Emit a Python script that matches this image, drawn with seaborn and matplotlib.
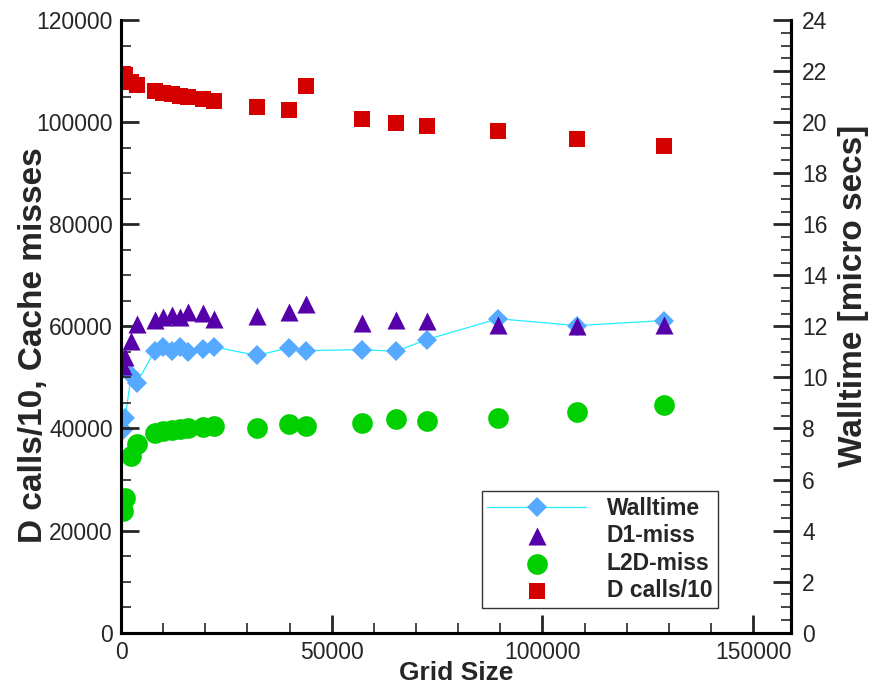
import matplotlib
matplotlib.use("Agg")
import matplotlib.pyplot as plt
import seaborn as sns
import pandas as pd
from matplotlib.ticker import MultipleLocator

# values
grid_size = [500, 1000, 2400, 3800, 8000, 10000, 12000, 14000, 16000, 19500, 22000,
             32200, 39800, 43900, 57300, 65200, 72500, 89500, 108200, 128900]
walltime = [7.95, 8.4, 10.1, 9.8, 11.05, 11.2, 11.05, 11.2, 11.0, 11.1, 11.2,
            10.86, 11.16, 11.05, 11.09, 11.02, 11.48, 12.3, 12.03, 12.23]
d1_miss = [52300, 54000, 57200, 60400, 61200, 61800, 62300, 61900, 62800, 62700, 61500,
           62100, 62800, 64400, 60700, 61200, 61000, 60200, 60100, 60300]
l2d_miss = [23800, 26400, 34600, 36900, 39200, 39600, 39800, 39900, 40000, 40300, 40500,
            40000, 40800, 40500, 41000, 41800, 41500, 42000, 43300, 44600]
d_calls10 = [109400, 109200, 107900, 107300, 106200, 105800, 105500, 105200, 104900, 104500, 104200,
             103000, 102300, 107000, 100600, 99800, 99300, 98200, 96750, 95400]

df = pd.DataFrame({
    "grid": grid_size,
    "walltime": walltime,
    "d1": d1_miss,
    "l2d": l2d_miss,
    "dcalls": d_calls10,
})

sns.set_style("ticks")
plt.rcParams['font.family'] = ['Liberation Sans', 'DejaVu Sans']

fig = plt.figure(figsize=(8.75, 6.92), dpi=100)
ax = fig.add_axes([0.1383, 0.0857, 0.7657, 0.8853])
ax2 = ax.twinx()
# left axis drawn on top of the right one
ax.set_zorder(ax2.get_zorder() + 1)
ax.patch.set_visible(False)

# Walltime on the right axis
sns.lineplot(data=df, x="grid", y="walltime", ax=ax2, color="#22EEFF", linewidth=0.9,
             marker="D", markersize=10.5, markerfacecolor="#55AAFF",
             markeredgecolor="#55AAFF", markeredgewidth=0, label="Walltime", legend=False)

# cache data on the left axis
sns.scatterplot(data=df, x="grid", y="dcalls", ax=ax, marker="s", s=132,
                color="#D40000", linewidth=0, label="D calls/10", legend=False)
sns.scatterplot(data=df, x="grid", y="l2d", ax=ax, marker="o", s=222,
                color="#00D000", linewidth=0, label="L2D-miss", legend=False)
sns.scatterplot(data=df, x="grid", y="d1", ax=ax, marker="^", s=169,
                color="#5500A8", linewidth=0, label="D1-miss", legend=False)

ax.set_xlim(0, 159000)
ax.set_ylim(0, 120000)
ax2.set_ylim(0, 24)
ax.xaxis.set_major_locator(MultipleLocator(50000))
ax.xaxis.set_minor_locator(MultipleLocator(10000))
ax.yaxis.set_major_locator(MultipleLocator(20000))
ax.yaxis.set_minor_locator(MultipleLocator(5000))
ax2.yaxis.set_major_locator(MultipleLocator(2))
ax2.yaxis.set_minor_locator(MultipleLocator(0.5))

for a in (ax, ax2):
    a.tick_params(which="major", direction="in", length=13, width=2, labelsize=16.5, pad=6)
    a.tick_params(which="minor", direction="in", length=7, width=1.2)
    for side in ("left", "right", "bottom"):
        a.spines[side].set_linewidth(2.2)
        a.spines[side].set_color("black")
    a.spines["top"].set_visible(False)
ax2.tick_params(which="major", pad=8)

ax.set_xlabel("Grid Size", fontsize=19, fontweight="bold")
ax.xaxis.set_label_coords(0.5, -0.047)
ax.set_ylabel("D calls/10, Cache misses", fontsize=24, fontweight="bold")
ax.yaxis.set_label_coords(-0.108, 0.47)
ax2.set_ylabel("Walltime [micro secs]", fontsize=24, fontweight="bold")
ax2.yaxis.set_label_coords(1.07, 0.55)

# legend in the reference order
h1, l1 = ax.get_legend_handles_labels()
h2, l2 = ax2.get_legend_handles_labels()
lookup = dict(zip(l1 + l2, h1 + h2))
order = ["Walltime", "D1-miss", "L2D-miss", "D calls/10"]
leg = ax.legend([lookup[k] for k in order], order, loc="lower right",
                bbox_to_anchor=(0.891, 0.04), borderaxespad=0,
                prop={"weight": "bold", "size": 16.5},
                handlelength=4.3, handletextpad=0.9, labelspacing=0.2,
                borderpad=0.25, fancybox=False, framealpha=1, edgecolor="#333333")
leg.get_frame().set_linewidth(1)

fig.savefig("out.png", dpi=100)
